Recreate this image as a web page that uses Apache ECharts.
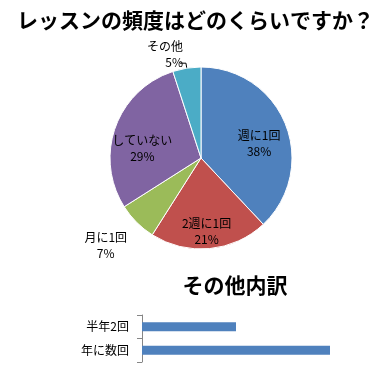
<!DOCTYPE html>
<html>
<head>
<meta charset="utf-8">
<script src="https://cdn.jsdelivr.net/npm/echarts@6/dist/echarts.min.js"></script>
<style>
html, body { margin: 0; padding: 0; background: #fff; }
#main { width: 391px; height: 376px; }
</style>
</head>
<body>
<div id="main"></div>
<script>
// 円グラフのデータ
var pieNames = ['週に1回', '2週に1回', '月に1回', 'していない', 'その他'];
var pieValues = [38, 21, 7, 29, 5];
var pieColors = ['#4F81BD', '#C0504D', '#9BBB59', '#8064A2', '#4BACC6'];

// その他内訳
var barNames = ['半年2回', '年に数回'];
var barValues = [1, 2];

var font = '"Noto Sans CJK JP", sans-serif';

// ラベル位置の微調整 (中心からのずらし)
var labelOffsets = [[13, 3], [1, 25], [-61, 53], [-13, 7], null];

var pieData = pieNames.map(function (name, i) {
    var item = {
        name: name,
        value: pieValues[i],
        itemStyle: { color: pieColors[i] }
    };
    if (labelOffsets[i]) {
        item.label = { position: 'inside', offset: labelOffsets[i] };
        item.labelLine = { show: false };
    } else {
        // その他は外側に引き出し線つき
        item.label = { position: 'outside', distanceToLabelLine: 2 };
        item.labelLine = {
            show: true,
            length: 5,
            length2: 6,
            lineStyle: { color: '#000', width: 1 }
        };
    }
    return item;
});

var chart = echarts.init(document.getElementById('main'));
var option = {
    backgroundColor: '#fff',
    animation: false,
    title: [{
        text: 'レッスンの頻度はどのくらいですか？',
        left: 'center',
        top: 5,
        textStyle: { fontFamily: font, fontSize: 21, fontWeight: 'bold', color: '#000' }
    }, {
        text: 'その他内訳',
        left: 230,
        textAlign: 'center',
        top: 270,
        textStyle: { fontFamily: font, fontSize: 21, fontWeight: 'bold', color: '#000' }
    }],
    series: [{
        type: 'pie',
        center: [201, 158],
        radius: 91,
        startAngle: 90,
        clockwise: true,
        avoidLabelOverlap: false,
        itemStyle: { borderColor: '#fff', borderWidth: 1 },
        label: {
            formatter: '{b}\n{d}%',
            fontFamily: font,
            fontSize: 12,
            lineHeight: 16,
            color: '#000',
            align: 'center'
        },
        labelLayout: function (params) {
            if (params.dataIndex === 4) {
                return { dx: 5, dy: -9 };
            }
        },
        emphasis: { disabled: true },
        data: pieData
    }, {
        type: 'bar',
        xAxisIndex: 0,
        yAxisIndex: 0,
        barWidth: 9,
        itemStyle: { color: '#4F81BD' },
        data: barValues
    }],
    grid: { left: 142, top: 315, width: 188, height: 47 },
    xAxis: { type: 'value', min: 0, max: 2, show: false },
    yAxis: {
        type: 'category',
        inverse: true,
        data: barNames,
        axisLine: { show: true, lineStyle: { color: '#868686' } },
        axisTick: { show: true, length: 5, lineStyle: { color: '#868686' } },
        axisLabel: { fontFamily: font, fontSize: 12, color: '#000', margin: 13 }
    }
};
chart.setOption(option);
</script>
</body>
</html>
